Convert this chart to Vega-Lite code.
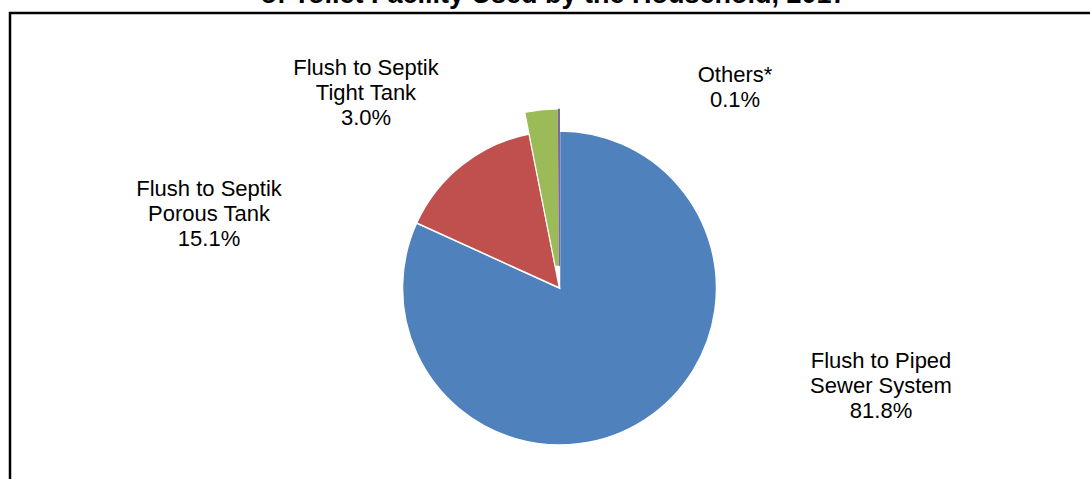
{
  "$schema": "https://vega.github.io/schema/vega-lite/v6.json",
  "width": 1099,
  "height": 550,
  "autosize": {"type": "none"},
  "padding": {"left": 10, "top": 13, "right": -19, "bottom": -84},
  "background": "white",
  "title": {
    "text": "of Toilet Facility Used by the Household, 2017",
    "font": "Liberation Sans",
    "fontSize": 27,
    "fontWeight": "bold",
    "color": "black",
    "baseline": "alphabetic",
    "anchor": "middle",
    "offset": -47.5,
    "dx": -6
  },
  "config": {
    "view": {"stroke": null},
    "text": {"font": "Liberation Sans", "fontSize": 22, "lineHeight": 25, "color": "black"}
  },
  "data": {
    "values": [
      {"category": "Flush to Piped Sewer System", "label": "Flush to Piped\nSewer System\n81.8%", "value": 81.8, "rank": 1},
      {"category": "Flush to Septik Porous Tank", "label": "Flush to Septik\nPorous Tank\n15.1%", "value": 15.1, "rank": 2},
      {"category": "Flush to Septik Tight Tank", "label": "Flush to Septik\nTight Tank\n3.0%", "value": 3.0, "rank": 3},
      {"category": "Others*", "label": "Others*\n0.1%", "value": 0.1, "rank": 4}
    ]
  },
  "layer": [
    {
      "data": {"values": [{}]},
      "mark": {"type": "rect", "fill": null, "stroke": "black", "strokeWidth": 2.5},
      "encoding": {}
    },
    {
      "mark": {"type": "arc", "radius": 157, "stroke": "white", "strokeWidth": 1.5},
      "encoding": {
        "theta": {"field": "value", "type": "quantitative", "stack": true},
        "order": {"field": "rank", "type": "quantitative"},
        "color": {
          "field": "category", "type": "nominal", "legend": null,
          "scale": {
            "domain": ["Flush to Piped Sewer System", "Flush to Septik Porous Tank", "Flush to Septik Tight Tank", "Others*"],
            "range": ["#4F81BD", "#C0504D", "#9BBB59", "#8064A2"]
          }
        },
        "opacity": {"condition": {"test": "datum.rank >= 3", "value": 0}, "value": 1}
      }
    },
    {
      "mark": {"type": "arc", "radius": 179, "radius2": 22, "strokeWidth": 1},
      "encoding": {
        "theta": {"field": "value", "type": "quantitative", "stack": true},
        "order": {"field": "rank", "type": "quantitative"},
        "color": {"field": "category", "type": "nominal", "legend": null},
        "stroke": {"condition": {"test": "datum.rank == 4", "value": "#8064A2"}, "value": "white"},
        "opacity": {"condition": {"test": "datum.rank <= 2", "value": 0}, "value": 1}
      }
    },
    {
      "mark": {"type": "text", "radius": 329.7, "thetaOffset": -0.7758, "align": "center", "baseline": "middle", "lineBreak": "\n"},
      "encoding": {
        "theta": {"field": "value", "type": "quantitative", "stack": true},
        "order": {"field": "rank", "type": "quantitative"},
        "text": {"condition": {"test": "datum.rank != 1", "value": ""}, "field": "label", "type": "nominal"}
      }
    },
    {
      "mark": {"type": "text", "radius": 364.2, "thetaOffset": -0.6263, "align": "center", "baseline": "middle", "lineBreak": "\n"},
      "encoding": {
        "theta": {"field": "value", "type": "quantitative", "stack": true},
        "order": {"field": "rank", "type": "quantitative"},
        "text": {"condition": {"test": "datum.rank != 2", "value": ""}, "field": "label", "type": "nominal"}
      }
    },
    {
      "mark": {"type": "text", "radius": 293, "thetaOffset": -0.6209, "align": "center", "baseline": "middle", "lineBreak": "\n"},
      "encoding": {
        "theta": {"field": "value", "type": "quantitative", "stack": true},
        "order": {"field": "rank", "type": "quantitative"},
        "text": {"condition": {"test": "datum.rank != 3", "value": ""}, "field": "label", "type": "nominal"}
      }
    },
    {
      "mark": {"type": "text", "radius": 276, "thetaOffset": 0.6923, "align": "center", "baseline": "middle", "lineBreak": "\n"},
      "encoding": {
        "theta": {"field": "value", "type": "quantitative", "stack": true},
        "order": {"field": "rank", "type": "quantitative"},
        "text": {"condition": {"test": "datum.rank != 4", "value": ""}, "field": "label", "type": "nominal"}
      }
    }
  ]
}
